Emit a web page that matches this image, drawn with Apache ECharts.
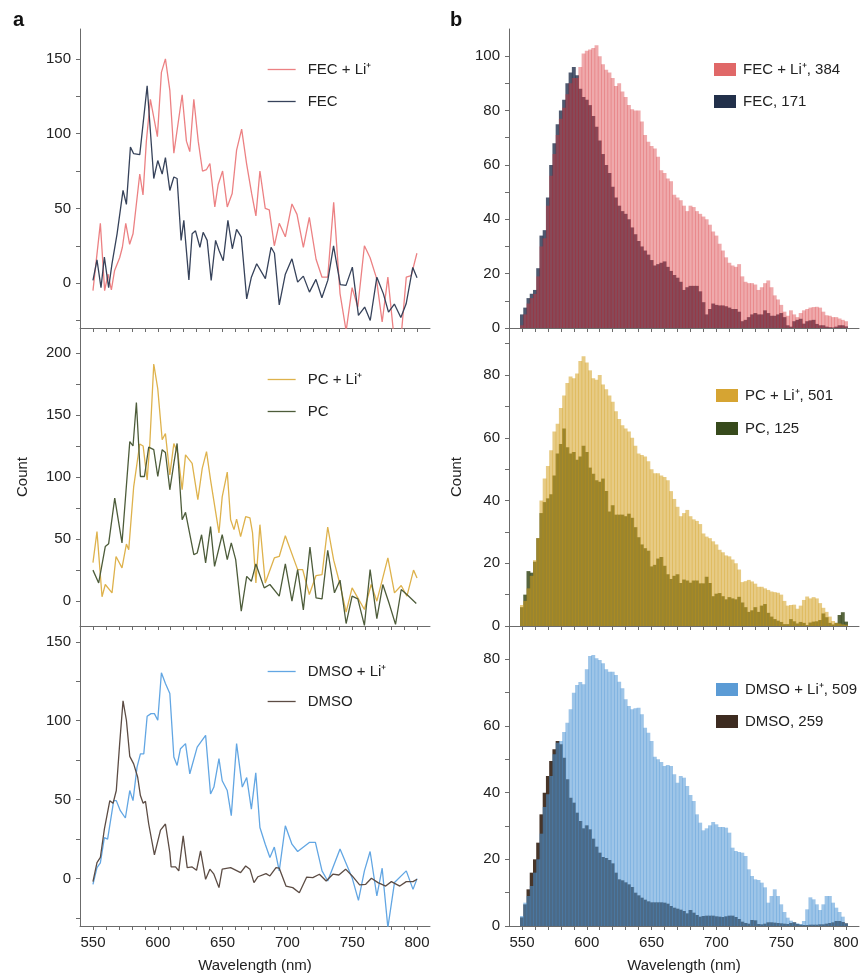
<!DOCTYPE html>
<html><head><meta charset="utf-8">
<script src="https://cdn.jsdelivr.net/npm/echarts@6/dist/echarts.min.js"></script>
<style>html,body{margin:0;padding:0;background:#fff}#c{width:863px;height:974px}</style>
</head><body><div id="c"></div>
<script>
// ---------- Panel a : line spectra ----------
const fecLiWl = [550,555.7,559,561.6,564.2,566.7,570.6,572.7,575.3,578.3,580.9,586.1,588.6,591.2,594.3,599.7,602.8,605.9,609.3,612.4,618.8,622.1,624.7,627.8,631.2,634.5,637.6,640.2,644,646.6,650,653.6,657.4,660.8,664.7,668.5,672.4,675.7,678.8,682.9,686,689.9,693.7,698.4,703.5,707.4,712.3,716.9,722.1,726.7,731.1,735.7,740.6,745.3,749.9,754.3,759.4,763.8,768.5,773.1,777.5,782.1,787.8,791.7,795.5,799.9];
const fecLiCount = [-5,40,-5,6,-4.5,8.5,17,24,40,26,33,73,59,95,123,98,141,150,129,87,126,95,88,123,95,75,76,80,51,66,75,51,60,89,103,80,60,45,75,50,49,25,40,31,53,46,24,44,16,4,4,54,-7,-32,-3,-16,25,17,4,-26,4,-35,-35,4,5,20];
const fecWl = [550,553.1,556.2,558.8,562.1,564.7,568.6,573.2,575.8,578.9,581.4,586.1,591.8,596.9,600,603.4,605.9,609.3,612.4,614.9,618,620.1,624,626.5,629.1,632.5,635,638.1,641.2,644.6,647.2,650.5,654.1,657.5,660.8,664.4,668.6,672.2,676.3,683,687.4,690,693.7,698.4,703.5,707.9,712.3,717,722,726.6,731.2,735.6,740.8,745.2,750.1,754.8,759.6,763.9,769,774,778,782.5,787.5,791.6,796.7,800];
const fecCount = [1.8,15.6,-3,17.4,-3,13,33,62,52.7,91,86.6,86,132,70,82,73,84,62,71,70,28.6,42,2.2,33,35,24,34,28.6,1.8,28.6,22,15,42,23,36,31,-10.5,4,13,3,24,20,-14.5,6,16.3,0.7,4.7,-6,2.5,-9.8,2,25,-1,-1.5,10.7,-21.6,-16,-25,4,-7,-19.4,-14,-23,-13.8,10.5,3.6];

const pcLiWl = [550,553.1,557,559.5,564.7,567.8,572.4,575.8,577.6,581.4,586.1,588.7,591.8,593.8,596.9,600,603.4,605.9,609.3,612.4,615.5,618.8,621.4,626.5,630.9,634.3,637.6,640.7,647.2,649.7,653.6,656.2,658.8,660.8,663.9,667.8,671.1,673.1,675.7,678.8,682.9,689.9,693.7,698.4,707.9,711.8,716.9,722.1,726.7,731.1,735.7,740.6,745.3,749.9,754.3,759.4,764.6,769,777.5,782.6,787.8,792.2,797.3,800];
const pcLiCount = [31,56,3.5,13.4,6.7,36,26.8,46,41.5,92,126.6,125,97.7,125.8,191,171,130,135,101.7,127,119,89.7,117.8,111,81.7,107,120.5,97.7,55,84,104,65.6,57.6,66,52,68,67,55,14.7,61.6,14.7,34.8,36,52.7,25.4,25.4,5.4,20.6,21.4,59.7,33,13.4,-8.8,10.7,2.7,-6.7,13.4,0,34.8,6.7,12.6,4,25,18.7];
const pcWl = [550,554.4,559.5,562.1,566.8,572.4,578.4,580.9,583.5,586.6,589.7,593,596.9,600,603.4,605.9,609.3,612.4,614.9,618.8,621.4,627.8,630.4,633.8,636.9,640.7,643.8,649.7,653.6,656.7,660.1,664.4,668.6,672.2,675.7,682.1,686.5,693.7,698.4,703.5,707.9,712.3,717.4,722.1,726.7,731.1,736.3,740.6,745.3,749.9,754.3,759.4,763.8,769,773.6,778.3,783.4,787.8,793,799.4];
const pcCount = [25,14.7,44,46.3,83,46.9,128.5,125,160,100.4,100.4,124,122,100.4,122,119.7,89.7,111,127,65.6,71.5,37.5,38.8,53.5,30.8,60,28,53.5,33.5,46.9,33.5,-8,20,16,30,10.7,13.4,4,30,0,25.4,-7,43.6,2.7,1.9,41,6.7,16.9,-18,4,1.9,-19.5,25.4,-14,13.4,-1.3,-18.7,9.4,4.6,-1.9];

const dmsoLiWl = [550,553.1,555.7,558.8,561.3,566,568,571.1,575,578.4,580.9,584,586.6,589.2,591.8,594.8,597.4,600,602.8,605.9,609.3,612.4,614.9,617.5,621.4,624.7,630.4,636.9,640.7,643.3,647.2,649.7,653.6,656.7,660.8,665.2,668.6,672.2,675.6,678.8,682.9,686.5,689.9,693.7,698.4,703.5,707.9,716.9,721.6,726.7,731.1,740.6,749.9,754.8,759.4,763.8,769,773.1,777.5,782.6,791.7,796.9,800];
const dmsoLiCount = [-3.6,7,10,26,25,49.4,49.4,43,38.4,55.8,49.4,70.6,79,79,102.8,104.5,104.5,100.3,130.4,123.6,117.3,77,71.7,82.3,85.5,66.4,83.3,90.8,53.6,58,76,62,55.8,39.9,85.5,58,64,44,67,32.4,21.8,13.4,20,4.9,33.5,21.8,17.2,22.9,22.9,4.9,-1.5,18.7,0.6,-13.8,4.9,17.2,-11,6.6,-31,-2.5,4.9,-6.8,0];
const dmsoWl = [550,553.1,555.7,558.8,563,565.5,568,570.6,573.2,575.8,578.4,581.4,584.5,586.6,588.7,590.5,593,597.4,602.1,605.9,609.3,610.3,613.7,616.2,619.6,622.7,626.5,629.9,633,636.9,640.2,643.3,647.2,649.7,656.2,663.9,667.8,671.1,674.2,677.3,683.5,686.5,691.2,693.7,698.9,704.1,709.2,714.9,719.6,724.7,729.9,735.1,739.7,744.9,750,755.7,760.4,764.8,769.9,775.8,780.2,786.7,791.7,796.9,800];
const dmsoCount = [-1.9,10.2,13.4,31.4,49.4,47.7,55.8,85.5,112.6,100.3,77.4,72.7,64.2,52.6,47.7,49,34.6,15,30.7,34.6,16.5,7.4,7.4,4.9,27.1,7,7.4,5.3,17.6,-0.4,6,2.8,-5.7,6,7,3.8,8,6,-2.5,1.2,3.2,1.7,7,6.6,-4.7,-5.7,-8.9,1,0.6,2.8,-1.5,2.8,2.3,6,1.7,-4,-3.6,0.2,-2.5,-4.7,-1.9,-4.7,-1.9,-1.9,-0.4];

// ---------- Panel b : histograms ----------
const barWl = [550,552.5,555,557.5,560,562.5,565,567.5,570,572.5,575,577.5,580,582.5,585,587.5,590,592.5,595,597.5,600,602.5,605,607.5,610,612.5,615,617.5,620,622.5,625,627.5,630,632.5,635,637.5,640,642.5,645,647.5,650,652.5,655,657.5,660,662.5,665,667.5,670,672.5,675,677.5,680,682.5,685,687.5,690,692.5,695,697.5,700,702.5,705,707.5,710,712.5,715,717.5,720,722.5,725,727.5,730,732.5,735,737.5,740,742.5,745,747.5,750,752.5,755,757.5,760,762.5,765,767.5,770,772.5,775,777.5,780,782.5,785,787.5,790,792.5,795,797.5,800];
const fecLiBar = [1,5,9,11,12.5,19,30,33,45,56,64,71,77,81,86,90,92,92,96,101,102,102.5,103,104,100,97,95,94,92,89,90,87,85,82,80.5,80,80,76,71,68.5,67,66,63,58,57,55,54,49,48,47,45,43,45,44.5,43,42,41,40,38,35.5,34,31,28.5,26,24,23,22.5,23.5,19,17,16.5,16.5,16,14,15,16.5,17.5,15,12,10.5,8.5,6,4.5,6.5,5,4,5.5,6.5,7,7.5,7.7,7.8,7.5,6,4.7,4.5,4,4,3.5,3,2.5];
const fecBar = [5,7.5,11,12.6,14,22,34,36,48,60,68,75,80,84,90,94,96,93,88,85,84,82,78,74,69,64,60,57,52,48,45,43,42,40,37,34.5,32,30,28.5,27,25,23,23.5,24,24.5,22.5,21,19.5,18.5,17,14,15,15.5,15.5,15.5,13.5,9.5,5,7,9,8.5,8.3,8.3,8,7.5,7,7,6,2.5,3,4,5,5.5,5,5,6.5,5.5,4.5,4.5,5,5.5,4,1,0.5,2.5,3,3.4,1.6,2.5,2.8,3,1.5,1,1,0.5,0.3,0.2,0.5,1,1,0.6];
const pcLiBar = [6.7,8,12,16,21,28,40,47,51,56,62,64.5,69.5,73.5,77.5,79.5,79,80.5,84.5,86,84,81.5,79,78.5,80,77,75.5,73.5,71.5,68.5,66,64,63,62,60,57.5,55,54.5,54,52.5,50,48.7,48.7,48,47.5,46.5,43,40.5,38,35,36,37,35,34,33.5,32.5,29.5,28.5,28,27,26,24.3,23.5,22.5,22.2,21.2,20,18,14,14.3,14.7,14.2,13.5,12.5,12.5,12,11.5,11,10.8,10.6,10,8,6.5,6.7,6.8,5.5,6.5,8.3,9.4,8.8,9.2,8.8,7.3,5.8,4.5,3,1.6,1,0.8,0.5,0.4];
const pcBar = [6,10,17.5,17,20.5,28,36,39.5,40.7,42,48,55,58,63,57,55,55.5,53,54,57.5,55.5,50.5,48.5,46.5,46,47,43,36.5,38.5,35.5,35.5,35.5,35,35.8,34.5,31.5,28.3,26,24.8,24,19,19.5,21.5,22,19.2,16.5,15,16,16.5,13.7,14.8,14.5,13.8,14.5,14.5,13.6,13.6,15.7,13.7,9.5,10.3,10.5,9.5,8.5,9.2,8.8,8.5,9.3,7.5,6,4.5,5,6,4.5,6.5,7,4.2,3,2.2,1.7,1.3,0.6,0.6,2.2,1.5,0.8,1.3,1,0.3,1.1,1.4,1.5,1.9,4,2.8,1,0.5,1,3.5,4.4,1.4];
const dmsoLiBar = [3,7,9,12,16,20,27.7,35.7,39.5,45,51.5,55,55.5,58.2,61,65,70,72.3,73.2,72.5,77,81,81.3,80.3,79.8,78.8,77,76.3,76.3,75.3,73.3,71.3,68,66,65,65.3,65.5,63.5,59.5,58,55.5,50.8,50,49.2,48,48.3,48,45.5,43,45,44.5,42,39.3,37.5,33.5,31,28.7,29.3,30.2,31.2,30.5,29.7,29.7,29.5,28,23.5,22.5,22.2,22,21,17,15,14,13.8,13,11.6,7,9,11,9,6.5,4.2,2.5,1.6,1.1,0.8,0.6,1.5,5,8.6,8,6.5,4.8,6.5,9,9,7,5.5,4.2,2.8,0.8];
const dmsoBar = [2.6,6.5,11,16,20,25,33.5,40,45,49.5,53,55.5,54.5,50.5,44,38.5,37,34,31.5,29.3,30.2,29,26.2,23.8,22,20.7,20.4,19.8,18.8,16,14,13.7,13.1,12.5,11.7,10,9.2,8.5,7.9,7.4,7.1,7.1,7.1,7.1,7,6.7,6,5.5,5.2,4.9,4.5,3.8,4.8,4,3.3,2.8,3,3.1,3.1,3.1,2.9,2.8,2.7,2.9,3.1,3.1,2.7,2.1,1.3,0.9,0.7,1.8,1.7,0.6,0.5,0.7,1.1,1.1,1,0.9,0.8,0.7,0.6,0.9,1.1,0.6,0.4,0.3,0.3,0.4,0.4,0.4,0.5,0.5,0.7,0.9,1.1,1.5,1.5,1.2,0.8];

// ---------- Ticks / labels ----------
const xTicks = [550,560,570,580,590,600,610,620,630,640,650,660,670,680,690,700,710,720,730,740,750,760,770,780,790,800];
const xLabels = [550,600,650,700,750,800];
const yRanges = [[-30,170],[-20,220],[-30,160],[0,110],[0,95],[0,90]];
const yTicks = [
  [-25,0,25,50,75,100,125,150],
  [0,25,50,75,100,125,150,175,200],
  [-25,0,25,50,75,100,125,150],
  [0,10,20,30,40,50,60,70,80,90,100],
  [0,10,20,30,40,50,60,70,80,90],
  [0,10,20,30,40,50,60,70,80]
];
const yLabels = [
  [0,50,100,150],[0,50,100,150,200],[0,50,100,150],
  [0,20,40,60,80,100],[0,20,40,60,80],[0,20,40,60,80]
];

const FONT = '"Liberation Sans", Arial, Helvetica, sans-serif';
const AX = '#6b6b6b';
const TXT = '#222';

const zip = (a, b) => a.map((v, i) => [v, b[i]]);

const gridsPos = [
  {left:80, top:29, width:350, height:299},
  {left:80, top:328, width:350, height:298},
  {left:80, top:626, width:350, height:300},
  {left:509, top:29, width:350, height:299},
  {left:509, top:328, width:350, height:298},
  {left:509, top:626, width:350, height:300}
];

const xAxes = gridsPos.map((g, i) => {
  const bottom = (i === 2 || i === 5);
  return {
    type:'value', gridIndex:i, min:540, max:810,
    axisLine:{show:true, onZero:false, lineStyle:{color:AX, width:1}},
    axisTick:{show:true, length:4, inside:false, customValues:xTicks, lineStyle:{color:AX}},
    axisLabel:{show:bottom, customValues:xLabels, margin:9, fontSize:15, color:TXT, fontFamily:FONT},
    splitLine:{show:false},
    name: bottom ? 'Wavelength (nm)' : '',
    nameLocation:'middle', nameGap:32,
    nameTextStyle:{fontSize:15, color:TXT, fontFamily:FONT}
  };
});

const yAxes = gridsPos.map((g, i) => ({
  type:'value', gridIndex:i, min:yRanges[i][0], max:yRanges[i][1],
  axisLine:{show:true, onZero:false, lineStyle:{color:AX, width:1}},
  axisTick:{show:true, length:4, customValues:yTicks[i], lineStyle:{color:AX}},
  axisLabel:{customValues:yLabels[i], margin:9, fontSize:15, color:TXT, fontFamily:FONT},
  splitLine:{show:false},
  name: (i === 1 || i === 4) ? 'Count' : '',
  nameLocation:'middle', nameGap: i === 1 ? 50 : 45,
  nameTextStyle:{fontSize:15, color:TXT, fontFamily:FONT}
}));

function lineSeries(name, i, wl, cnt, color) {
  return {
    type:'line', name, xAxisIndex:i, yAxisIndex:i, data:zip(wl, cnt),
    symbol:'none', showSymbol:false, clip:true,
    lineStyle:{color, width:1.3}, itemStyle:{color}
  };
}
function barSeries(name, i, vals, color, opacity) {
  return {
    type:'bar', name, xAxisIndex:i, yAxisIndex:i, data:zip(barWl, vals),
    barWidth:3.9, barGap:'-100%',
    itemStyle:{color, opacity}
  };
}

const series = [
  lineSeries('FEC + Li⁺', 0, fecLiWl, fecLiCount, '#ec8183'),
  lineSeries('FEC', 0, fecWl, fecCount, '#36425a'),
  lineSeries('PC + Li⁺', 1, pcLiWl, pcLiCount, '#deb24c'),
  lineSeries('PC', 1, pcWl, pcCount, '#4d5c3a'),
  lineSeries('DMSO + Li⁺', 2, dmsoLiWl, dmsoLiCount, '#62a6e3'),
  lineSeries('DMSO', 2, dmsoWl, dmsoCount, '#5c4c44'),
  barSeries('FEC, 171', 3, fecBar, '#23304b', 0.8),
  barSeries('FEC + Li⁺, 384', 3, fecLiBar, '#d8343a', 0.42),
  barSeries('PC, 125', 4, pcBar, '#3a4a1c', 0.85),
  barSeries('PC + Li⁺, 501', 4, pcLiBar, '#d4a020', 0.55),
  barSeries('DMSO, 259', 5, dmsoBar, '#3d2a1e', 0.95),
  barSeries('DMSO + Li⁺, 509', 5, dmsoLiBar, '#4f95d6', 0.55)
];

function lineLegend(names, top, gap) {
  return {
    data:names, left:267, top, orient:'vertical', itemGap:gap, padding:0,
    itemWidth:28, itemHeight:14, selectedMode:false,
    itemStyle:{opacity:0},
    lineStyle:{width:1.3},
    textStyle:{fontSize:15, color:TXT, fontFamily:FONT, padding:[0,0,0,7]}
  };
}
function barLegend(items, left, top, gap) {
  return {
    data:items.map(it => ({name:it[0], icon:'rect', itemStyle:{color:it[1], opacity:1}})),
    left, top, orient:'vertical', itemGap:gap, padding:0,
    itemWidth:22, itemHeight:13, selectedMode:false,
    textStyle:{fontSize:15, color:TXT, fontFamily:FONT, padding:[0,0,0,2]}
  };
}

const option = {
  animation:false,
  backgroundColor:'#fff',
  grid: gridsPos.map(g => Object.assign({containLabel:false}, g)),
  xAxis: xAxes,
  yAxis: yAxes,
  legend: [
    lineLegend(['FEC + Li⁺','FEC'], 62, 17),
    lineLegend(['PC + Li⁺','PC'], 372, 17),
    lineLegend(['DMSO + Li⁺','DMSO'], 664, 15),
    barLegend([['FEC + Li⁺, 384','#e06868'],['FEC, 171','#22304a']], 714, 62, 17),
    barLegend([['PC + Li⁺, 501','#d6a432'],['PC, 125','#374a1c']], 716, 388, 18),
    barLegend([['DMSO + Li⁺, 509','#5b9bd5'],['DMSO, 259','#3d2b20']], 716, 682, 17)
  ],
  graphic: [
    {type:'text', left:13, top:10, style:{text:'a', font:'bold 20px ' + FONT, fill:'#111'}},
    {type:'text', left:450, top:10, style:{text:'b', font:'bold 20px ' + FONT, fill:'#111'}}
  ],
  series
};

const chart = echarts.init(document.getElementById('c'), null, {renderer:'canvas'});
chart.setOption(option);
</script>
</body></html>
